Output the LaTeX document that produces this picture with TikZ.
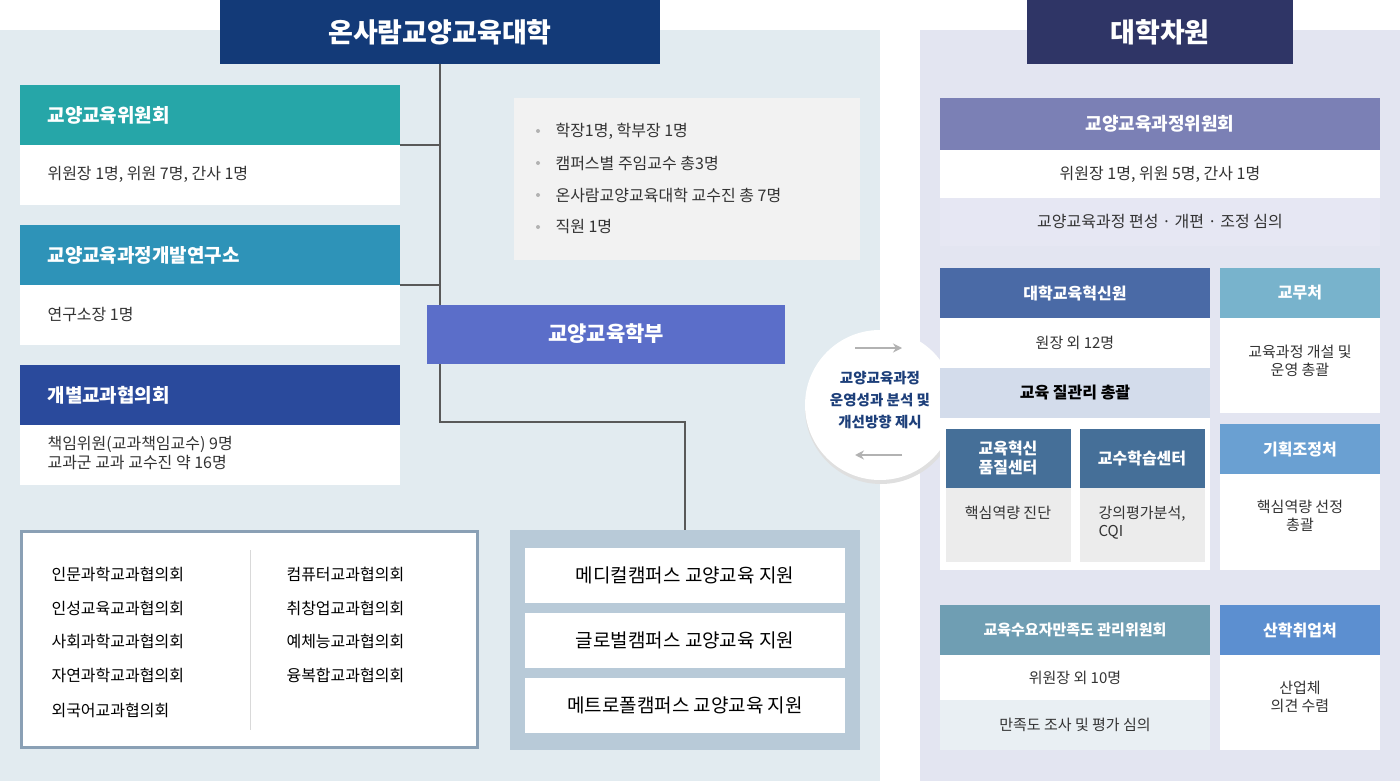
\documentclass[tikz,border=0pt]{standalone}
\usepackage{fontspec}
\setmainfont{Noto Sans CJK KR}
\usetikzlibrary{arrows.meta}
\definecolor{bgL}{HTML}{E2EBF0}
\definecolor{bgR}{HTML}{E3E5F1}
\definecolor{navy}{HTML}{133A78}
\definecolor{navyR}{HTML}{2F3566}
\definecolor{txt}{HTML}{333333}
\definecolor{cA}{RGB}{38,166,168}
\definecolor{cB}{RGB}{46,147,184}
\definecolor{cD}{RGB}{42,74,156}
\definecolor{cInfo}{RGB}{242,242,242}
\definecolor{cH}{RGB}{91,110,201}
\definecolor{cBorder}{RGB}{138,160,181}
\definecolor{cCamp}{RGB}{184,202,216}
\definecolor{cCirc}{RGB}{29,63,122}
\definecolor{cR1}{RGB}{123,128,181}
\definecolor{cR3}{RGB}{230,231,243}
\definecolor{cI1}{RGB}{74,106,166}
\definecolor{cI3}{RGB}{211,220,235}
\definecolor{cJ}{RGB}{69,111,152}
\definecolor{cJb}{RGB}{236,236,236}
\definecolor{cM}{RGB}{120,179,204}
\definecolor{cN}{RGB}{106,160,210}
\definecolor{cS}{RGB}{111,158,179}
\definecolor{cS3}{RGB}{233,239,243}
\definecolor{cU}{RGB}{92,143,208}
\tikzset{x=1pt,y=-1pt,
 hd/.style={text=white,font=\fontsize{19}{22}\selectfont\bfseries,anchor=west},
 hdc/.style={text=white,font=\fontsize{16}{19}\selectfont\bfseries,align=center},
 bd/.style={text=txt,font=\fontsize{16}{19}\selectfont,align=left,anchor=west},
 bdc/.style={text=txt,font=\fontsize{15}{18}\selectfont,align=center},
 ln/.style={draw=gray!70!black,line width=1.5pt}}
\begin{document}
\begin{tikzpicture}
\useasboundingbox (0,0) rectangle (1400,781);
\fill[bgL] (0,30) rectangle (880,781);
\fill[bgR] (920,30) rectangle (1400,781);
% titles
\fill[navy] (220,0) rectangle (660,64);
\node[text=white,font=\fontsize{27}{30}\selectfont\bfseries] (t1) at (440,32) {온사람교양교육대학};
\fill[navyR] (1027,0) rectangle (1293,64);
\node[text=white,font=\fontsize{27}{30}\selectfont\bfseries] (t2) at (1160,32) {대학차원};
% connectors
\coordinate (c1) at (440,422); \coordinate (c2) at (685,422); \coordinate (c3) at (685,530);
\draw[ln] (440,64) -- (c1) -- (c2) -- (c3);
\draw[ln] (400,145) -- (440,145);
\draw[ln] (400,285) -- (440,285);
% left boxes
\fill[cA] (20,85) rectangle (400,145);
\node[hd] (a1) at (44,115) {교양교육위원회};
\fill[white] (20,145) rectangle (400,205);
\node[bd] (a2) at (44,174) {위원장 1명, 위원 7명, 간사 1명};
\fill[cB] (20,225) rectangle (400,285);
\node[hd] (b1) at (44,255) {교양교육과정개발연구소};
\fill[white] (20,285) rectangle (400,345);
\node[bd] (b2) at (44,315) {연구소장 1명};
\fill[cD] (20,365) rectangle (400,425);
\node[hd] (d1) at (44,395) {개별교과협의회};
\fill[white] (20,425) rectangle (400,485);
\node[bd] (d2) at (44,453) {책임위원(교과책임교수) 9명\\교과군 교과 교수진 약 16명};
% info
\fill[cInfo] (514,98) rectangle (860,260);
\foreach \y/\t in {131/{학장1명, 학부장 1명},163/{캠퍼스별 주임교수 총3명},195/{온사람교양교육대학 교수진 총 7명},227/{직원 1명}}{
 \fill[gray!60] (538,\y) circle (2);
 \node[bd] at (552,\y) {\t};}
% 학부
\fill[cH] (427,305) rectangle (785,364);
\node[text=white,font=\fontsize{21}{24}\selectfont\bfseries] (h) at (606,334) {교양교육학부};
% councils
\draw[cBorder,line width=3pt,fill=white] (21,531) rectangle (477,747);
\draw[gray!30] (250,550) -- (250,730);
\foreach \y/\t in {574/인문과학교과협의회,608/인성교육교과협의회,641/사회과학교과협의회,675/자연과학교과협의회,710/외국어교과협의회}
 \node[bd,text=black] at (48,\y) {\t};
\foreach \y/\t in {574/컴퓨터교과협의회,608/취창업교과협의회,641/예체능교과협의회,675/융복합교과협의회}
 \node[bd,text=black] at (283,\y) {\t};
% campuses
\fill[cCamp] (510,530) rectangle (860,750);
\foreach \y/\t in {548/메디컬캠퍼스 교양교육 지원,613/글로벌캠퍼스 교양교육 지원,678/메트로폴캠퍼스 교양교육 지원}{
 \fill[white] (525,\y) rectangle (845,\y+55);
 \node[text=black,font=\fontsize{19}{22}\selectfont] at (685,\y+27.5) {\t};}
% circle
\fill[gray!25] (881,408) circle (76);
\fill[white] (880,405) circle (75);
\node[text=cCirc,font=\fontsize{14.5}{22}\selectfont\bfseries,align=center] (cc) at (880,400) {교양교육과정\\운영성과 분석 및\\개선방향 제시};
\coordinate (ar1) at (855,348); \coordinate (ar2) at (902,348);
\coordinate (ar3) at (902,455); \coordinate (ar4) at (855,455);
\draw[gray!60,line width=2pt,-{Stealth[length=9pt,width=9pt]}] (ar1) -- (ar2);
\draw[gray!60,line width=2pt,-{Stealth[length=9pt,width=9pt]}] (ar3) -- (ar4);
% right
\fill[cR1] (940,98) rectangle (1380,150);
\node[hdc,font=\fontsize{18}{21}\selectfont\bfseries] (r1) at (1160,124) {교양교육과정위원회};
\fill[white] (940,150) rectangle (1380,198);
\node[bdc,font=\fontsize{16}{19}\selectfont] (r2) at (1160,174) {위원장 1명, 위원 5명, 간사 1명};
\fill[cR3] (940,198) rectangle (1380,246);
\node[bdc,font=\fontsize{16}{19}\selectfont] (r3) at (1160,222) {교양교육과정 편성 · 개편 · 조정 심의};
\fill[cI1] (940,268) rectangle (1210,318);
\node[hdc] (i1) at (1075,293) {대학교육혁신원};
\fill[white] (940,318) rectangle (1210,570);
\node[bdc] (i2) at (1075,343) {원장 외 12명};
\fill[cI3] (940,368) rectangle (1210,418);
\node[bdc,text=black,font=\fontsize{16}{19}\selectfont\bfseries] (i3) at (1075,393) {교육 질관리 총괄};
\fill[cJ] (946,429) rectangle (1071,488);
\node[hdc] (j1) at (1008,458) {교육혁신\\품질센터};
\fill[cJb] (946,488) rectangle (1071,562);
\node[bdc,anchor=north] (j2) at (1008,503) {핵심역량 진단};
\fill[cJ] (1080,429) rectangle (1205,488);
\node[hdc] (k1) at (1142,458) {교수학습센터};
\fill[cJb] (1080,488) rectangle (1205,562);
\node[bdc,align=left,anchor=north west] (k2) at (1095,503) {강의평가분석,\\CQI};
\fill[cM] (1220,268) rectangle (1380,318);
\node[hdc] (m1) at (1300,293) {교무처};
\fill[white] (1220,318) rectangle (1380,413);
\node[bdc] (m2) at (1300,361) {교육과정 개설 및\\운영 총괄};
\fill[cN] (1220,424) rectangle (1380,474);
\node[hdc] (n1) at (1300,449) {기획조정처};
\fill[white] (1220,474) rectangle (1380,570);
\node[bdc] (n2) at (1300,516) {핵심역량 선정\\총괄};
\fill[cS] (940,605) rectangle (1210,655);
\node[hdc,font=\fontsize{15}{18}\selectfont\bfseries] (s1) at (1075,630) {교육수요자만족도 관리위원회};
\fill[white] (940,655) rectangle (1210,700);
\node[bdc] (s2) at (1075,678) {위원장 외 10명};
\fill[cS3] (940,700) rectangle (1210,750);
\node[bdc] (s3) at (1075,725) {만족도 조사 및 평가 심의};
\fill[cU] (1220,605) rectangle (1380,655);
\node[hdc] (u1) at (1300,630) {산학취업처};
\fill[white] (1220,655) rectangle (1380,750);
\node[bdc] (u2) at (1300,697) {산업체\\의견 수렴};
\end{tikzpicture}
\end{document}
